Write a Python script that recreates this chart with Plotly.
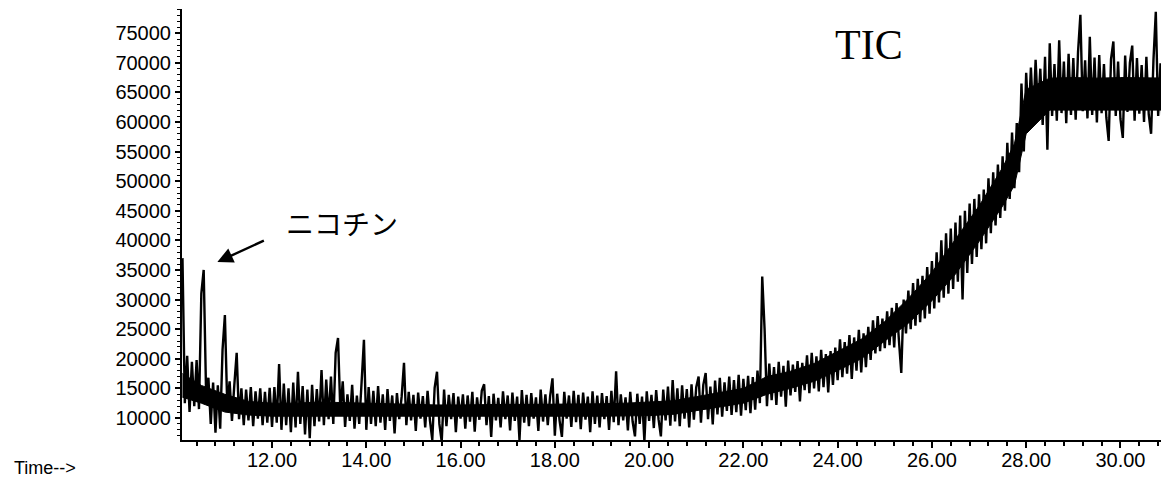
import plotly.graph_objects as go

# ---- data: total ion current (scan interval 0.05 min) ----
scan_start = 10.10
scan_interval = 0.05

tic_10 = [37000, 12500, 20500, 11000, 19500, 12000, 19800, 11500, 31000, 35000,
          14500, 16800, 9000, 16000, 7500, 15500, 8200, 21500]
tic_11 = [27400, 12000, 16200, 9500, 15600, 21000, 9800, 15000, 8800, 14800,
          9600, 15200, 8600, 14500, 9900, 15000, 8800, 14400, 9200, 15100]
tic_12 = [8500, 15200, 9200, 19100, 8000, 15800, 8800, 15000, 7600, 16000,
          8400, 17800, 9000, 15400, 7200, 14800, 6600, 15600, 8600, 14900]
tic_13 = [9400, 18100, 8800, 16500, 9800, 17000, 9000, 21000, 23500, 11000,
          16200, 8500, 14000, 9500, 15600, 8200, 13800, 9000, 16000, 23200]
tic_14 = [8000, 15200, 9000, 14600, 8600, 15400, 9200, 14000, 8000, 14900,
          9500, 13800, 7400, 14200, 9800, 13600, 19300, 8800, 14400, 9600]
tic_15 = [13900, 7800, 14300, 9900, 13700, 8400, 14600, 9600, 6300, 15100,
          17800, 9000, 6000, 14800, 8600, 13900, 9800, 14200, 7600, 13600]
tic_16 = [9900, 14000, 8200, 13800, 9400, 14400, 7700, 13500, 9700, 14600,
          15700, 8800, 13700, 6800, 14100, 9600, 13400, 8400, 14500, 9800]
tic_17 = [13800, 7900, 14300, 9500, 13600, 6300, 14700, 9200, 13900, 8600,
          14200, 9900, 13500, 7800, 14800, 9400, 14000, 8800, 13700, 16700]
tic_18 = [7000, 14100, 9600, 6800, 14400, 9900, 13800, 8500, 14600, 9300,
          13900, 8100, 14300, 9700, 13600, 7600, 14500, 9000, 13800, 8400]
tic_19 = [14200, 9800, 13700, 8000, 14600, 9300, 17900, 8800, 14000, 9600,
          13500, 7900, 14400, 9400, 6900, 14100, 9000, 13600, 6100, 14500]
tic_20 = [9500, 13900, 8300, 14700, 9800, 6900, 14800, 9600, 15300, 8700,
          16400, 9400, 15000, 8600, 15500, 9900, 14900, 8400, 15700, 9700]
tic_21 = [15200, 17000, 9200, 15600, 17600, 9800, 15300, 8900, 16300, 10600,
          16800, 10200, 16000, 11200, 17000, 10500, 16400, 11000, 17300, 10400]
tic_22 = [16600, 11300, 17100, 10800, 16900, 11400, 18000, 12500, 33900, 25000,
          12000, 19200, 13000, 18600, 12200, 19500, 13600, 18800, 11900, 19700]
tic_23 = [13800, 19000, 14400, 19600, 12800, 19300, 14700, 20600, 14200, 21000,
          15000, 20400, 14500, 21500, 15200, 20800, 14300, 21300, 15600, 21900]
tic_24 = [16400, 23300, 16900, 22800, 17500, 24000, 16600, 23600, 18000, 24900,
          17700, 24300, 18600, 25400, 19800, 26500, 20900, 27200, 21300, 26800]
tic_25 = [21800, 28000, 22300, 28600, 21900, 29400, 23100, 17600, 30000, 24300,
          31500, 25000, 32800, 25600, 33500, 26200, 34000, 26800, 35500, 27600]
tic_26 = [36500, 28500, 38000, 29500, 40000, 30300, 41200, 31000, 42000, 31800,
          43000, 33000, 44200, 30000, 45000, 34500, 46200, 36000, 47000, 37200]
tic_27 = [47800, 38500, 48600, 39500, 50500, 41200, 51500, 42500, 52800, 43800,
          54200, 45000, 56500, 47000, 58200, 48800, 59800, 51500, 66500, 55000]
tic_28 = [68300, 59800, 69200, 60500, 70500, 61800, 69000, 59500, 71000, 55300,
          73300, 61000, 69800, 60200, 73800, 61500, 70200, 59800, 71500, 61200]
tic_29 = [70800, 60400, 71800, 78100, 61800, 70400, 60600, 74400, 61200, 70900,
          59900, 71300, 61500, 69800, 60800, 56800, 70600, 73600, 61000, 70200]
tic_30 = [60500, 57300, 71200, 61700, 70000, 72900, 60200, 70800, 61400, 69600,
          60000, 71000, 61300, 58000, 70400, 78600, 61000, 69900, 57600, 70500]
tic_31 = [61200, 69800]

# solid core of the noise band (where the trace is fully inked)
band_t  = [10.10, 10.50, 11.00, 11.50, 12.00, 12.50, 13.00, 13.50, 14.00, 14.50,
           15.00, 15.50, 16.00, 16.50, 17.00, 17.50, 18.00, 18.50, 19.00, 19.50,
           20.00, 20.50, 21.00, 21.50, 22.00, 22.50, 23.00, 23.50, 24.00, 24.50,
           25.00, 25.50, 26.00, 26.50, 27.00, 27.50, 27.75, 28.00, 28.50, 29.00,
           29.50, 30.00, 30.50, 31.05]
band_lo = [13500, 12500, 11000, 10500, 10300, 10200, 10300, 10300, 10300, 10200,
           10200, 10200, 10200, 10300, 10300, 10300, 10300, 10300, 10300, 10300,
           10400, 10600, 11200, 11900, 12500, 14000, 15000, 16200, 18000, 20000,
           23000, 26000, 29800, 34300, 39800, 45800, 49300, 58000, 62000, 62100,
           62000, 62100, 62000, 62000]
band_hi = [17500, 15500, 14000, 12800, 12500, 12500, 12700, 12600, 12400, 12300,
           12300, 12200, 12200, 12300, 12300, 12300, 12300, 12400, 12400, 12500,
           12700, 12900, 13600, 14300, 15000, 17000, 17900, 19200, 21200, 23300,
           26300, 30200, 34600, 40300, 45800, 52300, 56300, 65500, 67400, 67500,
           67400, 67500, 67400, 67400]

x_ticks = [12, 14, 16, 18, 20, 22, 24, 26, 28, 30]
y_ticks = [10000, 15000, 20000, 25000, 30000, 35000, 40000, 45000,
           50000, 55000, 60000, 65000, 70000, 75000]

nicotine_time = 10.84
nicotine_level = 36350

# ---- build series ----
abundance = (tic_10 + tic_11 + tic_12 + tic_13 + tic_14 + tic_15 + tic_16 + tic_17 +
             tic_18 + tic_19 + tic_20 + tic_21 + tic_22 + tic_23 + tic_24 + tic_25 +
             tic_26 + tic_27 + tic_28 + tic_29 + tic_30 + tic_31)
times = [round(scan_start + i * scan_interval, 3) for i in range(len(abundance))]

fig = go.Figure()
fig.add_trace(go.Scatter(x=band_t + band_t[::-1], y=band_hi + band_lo[::-1],
                         mode="lines", fill="toself", fillcolor="black",
                         line=dict(color="black", width=1),
                         hoverinfo="skip", showlegend=False))
fig.add_trace(go.Scatter(x=times, y=abundance, mode="lines",
                         line=dict(color="black", width=2.4, simplify=False),
                         hoverinfo="skip", showlegend=False))

axis_font = dict(family="Liberation Sans, Arial, sans-serif", size=20, color="black")

# page body has an 8px margin, so the figure is sized to fill the rest of the window
fig.update_layout(
    width=1161, height=477,
    margin=dict(l=174, r=0, t=1, b=45),
    paper_bgcolor="white", plot_bgcolor="white",
    showlegend=False,
    xaxis=dict(range=[10.09, 31.03], tickvals=x_ticks,
               ticktext=[f"{v:.2f}" for v in x_ticks],
               showline=True, linecolor="black", linewidth=2,
               ticks="outside", ticklen=6, tickwidth=2, tickcolor="black",
               ticklabelstandoff=-5,
               minor=dict(dtick=0.4, tick0=0, ticks="outside", ticklen=4,
                          tickwidth=2, tickcolor="black", showgrid=False),
               showgrid=False, zeroline=False, tickfont=axis_font),
    yaxis=dict(range=[6280, 79080], tickvals=y_ticks,
               ticktext=[str(v) for v in y_ticks],
               showline=True, linecolor="black", linewidth=2,
               ticks="outside", ticklen=5, tickwidth=1.5, tickcolor="black",
               minor=dict(dtick=1000, tick0=0, ticks="outside", ticklen=3,
                          tickwidth=1, tickcolor="black", showgrid=False),
               showgrid=False, zeroline=False, tickfont=axis_font),
)

fig.add_annotation(x=nicotine_time, y=nicotine_level, xref="x", yref="y",
                   text="", showarrow=True, ax=48, ay=-22,
                   arrowhead=2, arrowsize=1.3, arrowwidth=2.4, arrowcolor="black",
                   standoff=0)
fig.add_annotation(x=(342 - 182) / 987, y=(440 - 223) / 431, xref="paper", yref="paper",
                   text="ニコチン", showarrow=False, xanchor="center", yanchor="middle",
                   font=dict(family="Noto Sans CJK JP", size=28, color="black"))
fig.add_annotation(x=(869 - 182) / 987, y=(440 - 45) / 431, xref="paper", yref="paper",
                   text="TIC", showarrow=False, xanchor="center", yanchor="middle",
                   font=dict(family="Liberation Serif, Times New Roman, serif",
                             size=42, color="black"))
fig.add_annotation(x=(12 - 182) / 987, y=(440 - 468) / 431, xref="paper", yref="paper",
                   text="Time-->", showarrow=False, xanchor="left", yanchor="middle",
                   font=dict(family="Liberation Sans, Arial, sans-serif", size=18,
                             color="black"))

fig.write_html("out.html")
